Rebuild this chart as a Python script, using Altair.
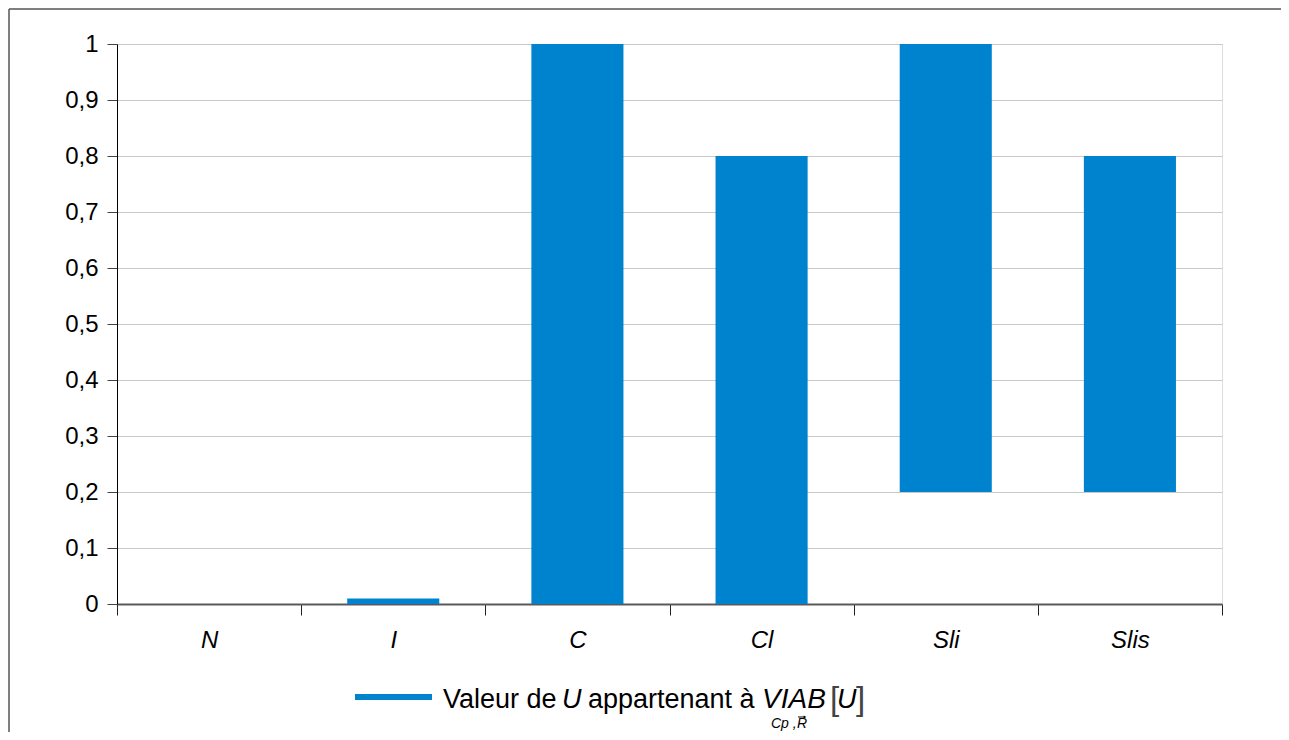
import altair as alt
import pandas as pd

categories = ["N", "I", "C", "Cl", "Sli", "Slis"]
lows = [0.0, 0.0, 0.0, 0.0, 0.2, 0.2]
highs = [0.0, 0.01, 1.0, 0.8, 1.0, 0.8]

BAR = "#0083CF"
FONT = "Liberation Sans"

df = pd.DataFrame({"cat": categories, "low": lows, "high": highs})

W, H = 1105, 560
PL, PT = 109, 36
PR = 1273 - PL - W
PB = 724 - PT - H

base = alt.Chart(df)

bars = base.mark_bar(color=BAR, width=alt.RelativeBandSize(0.5)).encode(
    x=alt.X("cat:N", sort=categories, title=None,
            scale=alt.Scale(paddingInner=0, paddingOuter=0),
            axis=alt.Axis(labelAngle=0, tickBand="extent", tickSize=11,
                          labelPadding=13, labelFontStyle="italic",
                          labelFontSize=24, labelFont=FONT, labelColor="#000",
                          domainColor="#5a5a5a", domainWidth=2,
                          tickColor="#222", grid=False)),
    y=alt.Y("low:Q", title=None,
            scale=alt.Scale(domain=[0, 1], nice=False),
            axis=alt.Axis(values=[i / 10 for i in range(11)],
                          labelExpr="replace(format(datum.value, '.1~f'), '.', ',')",
                          tickSize=10, labelPadding=9, labelFontSize=24,
                          labelFont=FONT, labelColor="#000",
                          domainColor="#000", tickColor="#444",
                          gridColor="#c8c8c8", gridWidth=1)),
    y2="high:Q",
)

one = pd.DataFrame({"k": [0]})
lb = alt.Chart(one)

leg_line = lb.mark_rule(color=BAR, strokeWidth=6).encode(
    x=alt.value(238), x2=alt.value(315), y=alt.value(653))


def txt(s, x, y, size=27, style="normal", color="#000", font=FONT):
    return lb.mark_text(text=s, align="left", baseline="alphabetic",
                        font=font, fontSize=size, fontStyle=style,
                        color=color).encode(x=alt.value(x), y=alt.value(y))


legend = [
    leg_line,
    txt("Valeur de", 326, 664),
    txt("U", 445, 664, style="italic"),
    txt("appartenant à", 471, 664),
    txt("VIAB", 645, 664, size=28, style="italic"),
    txt("[", 713, 666, size=33, color="#444"),
    txt("U", 720, 664, style="italic"),
    txt("]", 739, 666, size=33, color="#444"),
    txt("Cp ,", 654, 684, size=14, style="italic"),
    txt("R", 680, 684, size=14, style="italic"),
    # vector arrow above R
    lb.mark_rule(color="#000", strokeWidth=1).encode(
        x=alt.value(681), x2=alt.value(688), y=alt.value(673)),
    lb.mark_point(shape="triangle-right", filled=True, color="#000",
                  size=10, opacity=1).encode(x=alt.value(688), y=alt.value(673)),
]

frame_top = lb.mark_rule(color="#555", strokeWidth=1.5).encode(
    x=alt.value(-PL + 1), x2=alt.value(W + PR), y=alt.value(-PT + 1))
frame_left = lb.mark_rule(color="#555", strokeWidth=1.5).encode(
    x=alt.value(-PL + 1), y=alt.value(-PT + 1), y2=alt.value(H + PB))

chart = alt.layer(bars, *legend, frame_top, frame_left).properties(
    width=W, height=H,
    autosize=alt.AutoSizeParams(type="none"),
    padding={"left": PL, "top": PT, "right": PR, "bottom": PB},
).configure_view(stroke="#c8c8c8").configure(background="white")

chart.save("out.html", embed_options={"renderer": "svg", "actions": False})
